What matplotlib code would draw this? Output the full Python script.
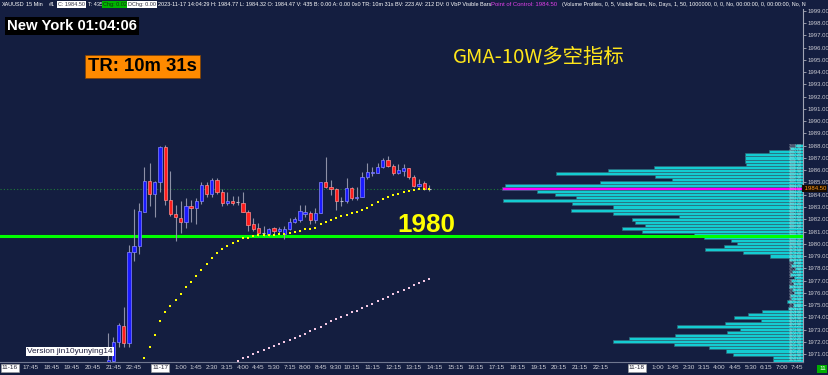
import matplotlib
matplotlib.use("Agg")
import matplotlib.pyplot as plt
import matplotlib.transforms as mtransforms
import numpy as np

W, H = 829, 375
BG = '#141e40'

# 15-minute candles, bar index 18 .. 80
first_bar = 18
opens = [1970.2, 1970.4, 1972.0, 1973.3, 1971.9, 1979.35, 1979.8, 1982.6, 1985.1, 1984.1,
         1985.0, 1987.9, 1983.6, 1982.4, 1982.1, 1981.8, 1983.05, 1982.9, 1983.45, 1984.8,
         1984.1, 1985.2, 1984.2, 1983.3, 1983.45, 1983.4, 1983.35, 1982.6, 1981.6, 1981.25,
         1980.85, 1980.8, 1981.25, 1981.05, 1980.8, 1981.2, 1981.8, 1981.95, 1982.45, 1982.55,
         1981.9, 1982.55, 1985.0, 1984.6, 1984.45, 1983.5, 1983.45, 1984.55, 1983.7, 1983.85,
         1985.45, 1985.8, 1985.8, 1986.25, 1986.8, 1986.35, 1985.8, 1985.95, 1986.15, 1985.45,
         1984.7, 1984.95, 1984.47]
highs = [1972.7, 1972.4, 1973.5, 1974.8, 1979.9, 1982.8, 1983.3, 1986.3, 1986.6, 1985.15,
         1988.0, 1988.1, 1985.9, 1983.2, 1983.5, 1983.7, 1983.55, 1983.75, 1985.0, 1985.0,
         1985.35, 1985.35, 1984.45, 1984.25, 1983.9, 1983.9, 1984.2, 1982.75, 1982.1, 1981.7,
         1981.45, 1981.3, 1981.35, 1981.35, 1981.45, 1982.1, 1982.2, 1983.15, 1983.15, 1982.65,
         1982.9, 1985.05, 1987.1, 1985.2, 1984.55, 1983.8, 1985.35, 1984.6, 1984.65, 1985.85,
         1986.6, 1986.3, 1986.6, 1987.0, 1987.2, 1986.5, 1986.55, 1986.55, 1986.2, 1985.6,
         1985.3, 1985.1, 1984.77]
lows = [1970.0, 1970.2, 1971.6, 1971.6, 1971.6, 1978.6, 1979.2, 1982.6, 1983.1, 1982.2,
        1984.25, 1983.2, 1982.3, 1980.2, 1980.85, 1981.25, 1981.8, 1981.6, 1983.25, 1983.85,
        1983.85, 1984.1, 1983.1, 1983.15, 1983.2, 1983.2, 1982.6, 1981.05, 1981.05, 1980.6,
        1980.6, 1980.6, 1980.8, 1980.9, 1980.4, 1981.1, 1981.7, 1981.8, 1982.2, 1981.65,
        1981.7, 1982.5, 1984.55, 1984.0, 1982.75, 1983.1, 1983.3, 1983.6, 1983.6, 1983.8,
        1985.25, 1985.5, 1985.8, 1986.2, 1986.3, 1985.6, 1985.7, 1985.5, 1985.3, 1984.6,
        1984.6, 1984.4, 1984.32]
closes = [1970.5, 1972.0, 1973.4, 1971.9, 1979.35, 1979.8, 1982.7, 1985.1, 1984.1, 1985.0,
          1987.9, 1983.6, 1982.4, 1982.15, 1981.75, 1983.05, 1982.9, 1983.5, 1984.8, 1984.1,
          1985.2, 1984.2, 1983.3, 1983.5, 1983.35, 1983.4, 1982.6, 1981.5, 1981.2, 1980.9,
          1980.85, 1981.2, 1981.05, 1981.2, 1981.2, 1981.8, 1982.0, 1982.7, 1982.6, 1981.95,
          1982.55, 1985.0, 1984.6, 1984.45, 1983.5, 1983.5, 1984.55, 1983.7, 1983.85, 1985.45,
          1985.85, 1985.85, 1986.3, 1986.85, 1986.35, 1985.8, 1986.0, 1986.15, 1985.45, 1984.7,
          1984.9, 1984.5, 1984.5]

# GMA-10W lines
fast_start = 25
fast_gma = [1970.70, 1971.60, 1972.55, 1973.67, 1974.40, 1974.94, 1975.43, 1975.90, 1976.44, 1976.90,
            1977.34, 1977.88, 1978.32, 1978.81, 1979.22, 1979.57, 1979.82, 1980.04, 1980.25, 1980.44,
            1980.51, 1980.63, 1980.69, 1980.74, 1980.71, 1980.71, 1980.77, 1980.80, 1980.85, 1980.96,
            1981.07, 1981.18, 1981.23, 1981.31, 1981.59, 1981.80, 1981.94, 1982.08, 1982.24, 1982.35,
            1982.49, 1982.57, 1982.76, 1982.94, 1983.16, 1983.41, 1983.63, 1983.82, 1983.98, 1984.06,
            1984.22, 1984.33, 1984.39, 1984.44, 1984.44, 1984.46]
slow_start = 43
slow_gma = [1970.43, 1970.65, 1970.78, 1970.98, 1971.14, 1971.33, 1971.51, 1971.68, 1971.79, 1971.96,
            1972.14, 1972.28, 1972.47, 1972.66, 1972.88, 1973.07, 1973.23, 1973.45, 1973.67, 1973.83,
            1974.00, 1974.18, 1974.40, 1974.51, 1974.73, 1974.89, 1975.11, 1975.30, 1975.49, 1975.68,
            1975.90, 1976.09, 1976.25, 1976.41, 1976.61, 1976.77, 1976.96, 1977.13]

level_1980 = 1980.6
poc = 1984.5

# volume profile, rows of 0.25 from 1988.00 down to 1970.50
profile_prices = np.arange(1988.0, 1970.4, -0.25)
profile_vol = [8, 13, 34, 58, 58, 58, 57, 149, 195, 247,
               148, 131, 203, 298, 301, 266, 248, 227, 300, 231,
               190, 232, 190, 124, 171, 168, 158, 181, 161, 109,
               99, 72, 66, 79, 98, 60, 33, 14, 10, 12,
               8, 11, 13, 9, 12, 10, 14, 11, 9, 13,
               12, 16, 10, 15, 41, 55, 69, 42, 78, 126,
               63, 76, 128, 174, 190, 129, 94, 77, 70, 30,
               30]

tick_pos = [-1, 3, 7, 11, 15, 19, 23, 28, 32, 35, 38, 41, 44, 47, 50, 53, 56, 59, 62, 65,
            69, 73, 77, 81, 85, 89, 93, 97, 101, 105, 109, 113, 120, 124, 127, 130, 133, 136,
            139, 142, 145, 148, 151]
tick_lbl = ['11-16', '17:45', '18:45', '19:45', '20:45', '21:45', '22:45', '11-17', '1:00', '1:45',
            '2:30', '3:15', '4:00', '4:45', '5:30', '7:15', '8:00', '8:45', '9:30', '10:15',
            '11:15', '12:15', '13:15', '14:15', '15:15', '16:15', '17:15', '18:15', '19:15', '20:15',
            '21:15', '22:15', '11-18', '1:00', '1:45', '2:30', '3:15', '4:00', '4:45', '5:30',
            '6:15', '7:00', '7:45']
price_ticks = np.arange(1971, 2000)

plt.rcParams['font.family'] = ['Liberation Sans', 'DejaVu Sans']

fig = plt.figure(figsize=(W / 100, H / 100), dpi=100, facecolor=BG)
ax = fig.add_axes([0, 13 / H, 803 / W, 353 / H])
ax.set_facecolor(BG)
xmin, xmax = -2.88, 152.1
ax.set_xlim(xmin, xmax)
ax.set_ylim(1970.35, 1999.16)

# volume profile on the right
px_per_bar = 5.18
vol = np.array(profile_vol) / px_per_bar
cols = ['#ff00ff' if abs(p - poc) < 0.01 else '#14ccd2' for p in profile_prices]
ax.barh(profile_prices, vol, left=xmax - vol, height=0.25, color=cols,
        edgecolor='#2e6878', linewidth=0.5, zorder=1)
# the tiny stacked price tags at the right end of every row
for p in profile_prices:
    ax.text(xmax - 0.2, p, f'{p:.2f}', ha='right', va='center', fontsize=2.6,
            color='#e8eef0', alpha=0.75, zorder=1.5)

# reference lines
ax.axhline(poc, color='#1f7a3a', lw=0.8, ls=(0, (1, 2)), zorder=0.5)
ax.axhline(level_1980, color='#00ff00', lw=2.2, zorder=2.5)

# candles
idx = np.arange(first_bar, first_bar + len(opens))
for x, o, h, l, c in zip(idx, opens, highs, lows, closes):
    ax.vlines(x, l, h, color='#8d90a6', lw=0.8, zorder=3)
    if abs(c - o) < 0.04:
        ax.hlines((o + c) / 2, x - 0.3, x + 0.3, color='#b8b8c8', lw=0.8, zorder=4)
        continue
    up = c > o
    ax.bar(x, abs(c - o), bottom=min(o, c), width=0.62,
           color='#1a1aff' if up else '#ff1c1c',
           edgecolor='#8888ff' if up else '#ff9090', linewidth=0.5, zorder=4)

ax.plot(np.arange(fast_start, fast_start + len(fast_gma)), fast_gma, 's', color='#ffff00',
        ms=2.1, mew=0, zorder=5)
ax.plot(np.arange(slow_start, slow_start + len(slow_gma)), slow_gma, 's', color='#f4c8e4',
        ms=1.8, mew=0, zorder=5)

# axes styling
for s in ['top', 'left']:
    ax.spines[s].set_visible(False)
ax.spines['right'].set_color('#a0a4b4')
ax.spines['right'].set_linewidth(0.8)
ax.spines['bottom'].set_color('#707890')
ax.spines['bottom'].set_linewidth(0.8)

ax.yaxis.tick_right()
ax.set_yticks(price_ticks, [f'{v:.2f}' for v in price_ticks])
ax.tick_params(axis='y', colors='#c8c8d0', labelsize=4.3, length=2, width=0.5, pad=1)
ax.set_xticks(tick_pos, tick_lbl)
ax.tick_params(axis='x', colors='#d0d0d8', labelsize=4.6, length=0, pad=2.5)
for t in ax.get_xticklabels():
    if '-' in t.get_text():
        t.set_color('#202030')
        t.set_bbox(dict(facecolor='white', edgecolor='#a0a0a0', pad=0.8, lw=0.4))

trans = mtransforms.blended_transform_factory(ax.transAxes, ax.transData)
ax.text(1.0, poc, ' 1984.50', transform=trans, ha='left', va='center', color='#ff9a1a',
        fontsize=4.3, bbox=dict(facecolor='#1a0c00', edgecolor='none', pad=0.5), clip_on=False)


def ftext(x, y, s, **kw):
    return fig.text(x / W, 1 - y / H, s, va='center', ha='left', **kw)


def fit(t, width):
    r = fig.canvas.get_renderer()
    w = t.get_window_extent(r).width
    t.set_fontsize(t.get_fontsize() * width / w)


fig.canvas.draw()

# header strip: (left px, text, text colour, box colour)
header = [
    (2, 'XAUUSD', 'white', None),
    (26, '15 Min', 'white', None),
    (49, '#1', 'white', None),
    (58, 'C: 1984.50', '#303040', 'white'),
    (88, 'T: 435', 'white', None),
    (103, 'Chg: 0.02', '#103010', '#00b400'),
    (128, 'DChg: 0.00', '#303040', 'white'),
]
for x0, s, c, box in header:
    kw = {}
    if box:
        kw['bbox'] = dict(facecolor=box, edgecolor='none', pad=0.6)
    ftext(x0, 4.5, s, color=c, fontsize=4.0, **kw)

long_parts = [
    (158, 328, '2023-11-17 14:04:29 H: 1984.77 L: 1984.32 O: 1984.47 V: 435 B: 0.00 A: 0.00 '
               '0x0 TR: 10m 31s BV: 223 AV: 212 DV: 0 VbP Visible Bars', 'white'),
    (491, 67, 'Point of Control: 1984.50', '#e040e8'),
    (562, 240, '(Volume Profiles, 0, 5, Visible Bars, No, Days, 1, 50, 1000000, 0, 0, No, '
               '00:00:00, 0, 00:00:00, No, N', 'white'),
]
for x0, wd, s, c in long_parts:
    t = ftext(x0, 4.5, s, color=c, fontsize=4.0)
    fit(t, wd)

t = ftext(7, 26, 'New York 01:04:06', color='white', fontsize=10, fontweight='bold',
          family='Liberation Sans', bbox=dict(facecolor='black', edgecolor='none', pad=1.5))
fit(t, 130)
t = ftext(88, 66.5, 'TR: 10m 31s', color='black', fontsize=10, fontweight='bold',
          family='Liberation Sans', bbox=dict(facecolor='#ff8a00', edgecolor='#804000', pad=1.5, lw=0.5))
fit(t, 109)
t = ftext(453, 57, 'GMA-10W多空指标', color='#ffe61a', fontsize=13,
          family=['Noto Sans CJK SC', 'DejaVu Sans'])
fit(t, 172)
t = ftext(397, 225, '1980', color='#ffff00', fontsize=18, fontweight='bold',
          family=['Liberation Sans Narrow', 'Liberation Sans'])
fit(t, 58)
t = ftext(27, 351.5, 'Version jin10yunying14', color='#202040', fontsize=6,
          bbox=dict(facecolor='white', edgecolor='none', pad=0.8))
fit(t, 86)
ftext(819, 369, '11', color='white', fontsize=4.6,
      bbox=dict(facecolor='#00b000', edgecolor='none', pad=1.2))

fig.savefig('out.png', dpi=100, facecolor=BG)
